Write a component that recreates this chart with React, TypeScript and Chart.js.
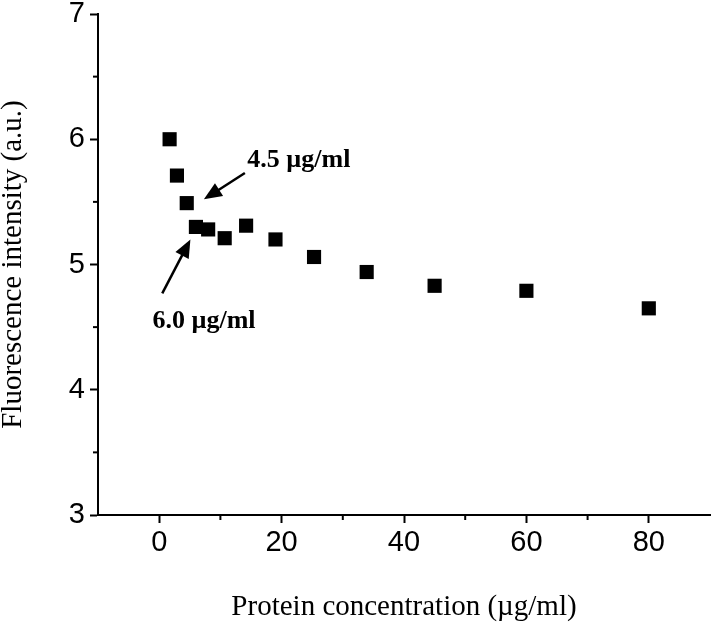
import React, { useEffect, useRef } from 'react';
import { Chart, registerables } from 'chart.js';

Chart.register(...registerables);

// Data
const concentrations = [1.7, 2.9, 4.5, 6.0, 8.0, 10.7, 14.2, 19.0, 25.3, 33.9, 45.0, 60.0, 80.0];
const intensities = [6.0, 5.71, 5.49, 5.3, 5.28, 5.21, 5.31, 5.2, 5.06, 4.94, 4.83, 4.79, 4.65];

// Axis ticks
const xTickValues = [0, 20, 40, 60, 80];
const yTickValues = [3, 4, 5, 6, 7];
const xMinorTicks = [10, 30, 50, 70];
const yMinorTicks = [3.5, 4.5, 5.5, 6.5];

// Annotations (in data units)
const annotationTexts = ['4.5 \u00b5g/ml', '6.0 \u00b5g/ml'];
const annotationTextAnchors = [[14.4, 5.78], [-1.1, 4.49]];
const arrowTails = [[14.0, 5.73], [0.5, 4.77]];
const arrowTips = [[7.3, 5.52], [5.1, 5.2]];

const xTitle = 'Protein concentration (\u00b5g/ml)';
const yTitle = 'Fluorescence intensity (a.u.)';

function drawArrow(ctx: CanvasRenderingContext2D, x1: number, y1: number, x2: number, y2: number) {
  const ang = Math.atan2(y2 - y1, x2 - x1);
  const headLen = 18;
  const headW = 7.5;
  const bx = x2 - headLen * Math.cos(ang);
  const by = y2 - headLen * Math.sin(ang);
  ctx.lineWidth = 2.5;
  ctx.beginPath();
  ctx.moveTo(x1, y1);
  ctx.lineTo(bx + 2 * Math.cos(ang), by + 2 * Math.sin(ang));
  ctx.stroke();
  ctx.beginPath();
  ctx.moveTo(x2, y2);
  ctx.lineTo(bx + headW * Math.sin(ang), by - headW * Math.cos(ang));
  ctx.lineTo(bx - headW * Math.sin(ang), by + headW * Math.cos(ang));
  ctx.closePath();
  ctx.fill();
}

const extrasPlugin = {
  id: 'extras',
  afterDraw(chart: any) {
    const { ctx, scales } = chart;
    const x = scales.x;
    const y = scales.y;
    const area = chart.chartArea;
    ctx.save();
    ctx.strokeStyle = '#000';
    ctx.fillStyle = '#000';
    ctx.lineWidth = 2;
    // minor ticks
    xMinorTicks.forEach((v) => {
      const px = x.getPixelForValue(v);
      ctx.beginPath();
      ctx.moveTo(px, area.bottom);
      ctx.lineTo(px, area.bottom + 5);
      ctx.stroke();
    });
    yMinorTicks.forEach((v) => {
      const py = y.getPixelForValue(v);
      ctx.beginPath();
      ctx.moveTo(area.left, py);
      ctx.lineTo(area.left - 5, py);
      ctx.stroke();
    });
    // arrows
    arrowTails.forEach((t, i) => {
      const tip = arrowTips[i];
      drawArrow(
        ctx,
        x.getPixelForValue(t[0]),
        y.getPixelForValue(t[1]),
        x.getPixelForValue(tip[0]),
        y.getPixelForValue(tip[1])
      );
    });
    // labels
    ctx.font = 'bold 26px "Liberation Serif", "Times New Roman", serif';
    ctx.textAlign = 'left';
    ctx.textBaseline = 'alphabetic';
    annotationTexts.forEach((txt, i) => {
      const a = annotationTextAnchors[i];
      ctx.fillText(txt, x.getPixelForValue(a[0]), y.getPixelForValue(a[1]));
    });
    ctx.restore();
  },
};

export default function App() {
  const canvasRef = useRef<HTMLCanvasElement | null>(null);

  useEffect(() => {
    if (!canvasRef.current) return;
    const tickFont = { family: '"Liberation Sans", Arial, sans-serif', size: 29 };
    const titleFont = { family: '"Liberation Serif", "Times New Roman", serif', size: 29, lineHeight: 1 };
    const chart = new Chart(canvasRef.current, {
      type: 'scatter',
      data: {
        datasets: [
          {
            data: concentrations.map((c, i) => ({ x: c, y: intensities[i] })),
            pointStyle: 'rect',
            pointRadius: 10,
            pointHoverRadius: 10,
            backgroundColor: '#000',
            borderColor: '#000',
            borderWidth: 0,
            showLine: false,
          },
        ],
      },
      options: {
        animation: false,
        responsive: false,
        events: [],
        layout: { padding: { top: 14, right: 3, left: 0, bottom: 0 } },
        plugins: { legend: { display: false }, tooltip: { enabled: false } },
        scales: {
          x: {
            type: 'linear',
            min: -10,
            max: 90,
            afterBuildTicks: (scale: any) => {
              scale.ticks = xTickValues.map((v) => ({ value: v }));
            },
            afterFit: (scale: any) => {
              scale.height = 108;
              scale.paddingLeft = 0;
              scale.paddingRight = 0;
            },
            grid: {
              drawOnChartArea: false,
              drawTicks: true,
              tickLength: 8,
              tickWidth: 2,
              tickColor: '#000',
            },
            border: { display: true, color: '#000', width: 2 },
            ticks: { color: '#000', font: tickFont, padding: 3, maxRotation: 0 },
            title: {
              display: true,
              text: xTitle,
              color: '#000',
              font: titleFont,
              padding: { top: 0, bottom: 1.4 },
            },
          },
          y: {
            type: 'linear',
            min: 3,
            max: 7,
            afterBuildTicks: (scale: any) => {
              scale.ticks = yTickValues.map((v) => ({ value: v }));
            },
            afterFit: (scale: any) => {
              scale.width = 98;
              scale.paddingTop = 0;
              scale.paddingBottom = 0;
            },
            grid: {
              drawOnChartArea: false,
              drawTicks: true,
              tickLength: 8,
              tickWidth: 2,
              tickColor: '#000',
            },
            border: { display: true, color: '#000', width: 2 },
            ticks: { color: '#000', font: tickFont, padding: 5 },
            title: {
              display: true,
              text: yTitle,
              color: '#000',
              font: titleFont,
              padding: { top: -1.5, bottom: 0 },
            },
          },
        },
      },
      plugins: [extrasPlugin],
    } as any);
    return () => chart.destroy();
  }, []);

  return (
    <div style={{ position: 'absolute', left: 0, top: 0, width: 720, height: 623, background: '#fff' }}>
      <canvas ref={canvasRef} width={720} height={623} style={{ display: 'block' }} />
    </div>
  );
}
